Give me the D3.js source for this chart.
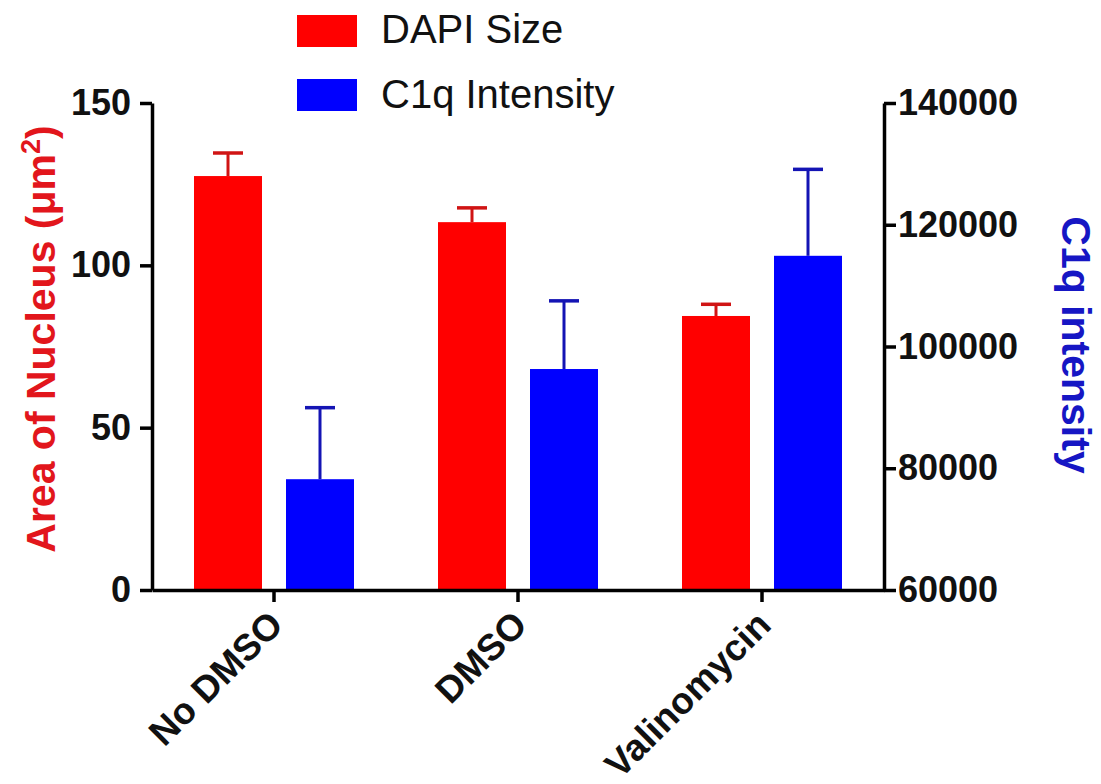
<!DOCTYPE html>
<html>
<head>
<meta charset="utf-8">
<script src="https://cdn.jsdelivr.net/npm/d3@7"></script>
<style>
  body { margin: 0; background: #fff; }
  svg { display: block; font-family: "Liberation Sans", Arial, sans-serif; }
</style>
</head>
<body>
<svg id="chart" width="1101" height="784"></svg>
<script>
// ---- data ----
const categories = ["No DMSO", "DMSO", "Valinomycin"];
const seriesNames = ["DAPI Size", "C1q Intensity"];
const dapiMean = [127.5, 113.3, 84.4];
const dapiErr  = [134.6, 117.7, 88.0];          // upper end of error bar
const c1qMean  = [78200, 96300, 114900];
const c1qErr   = [89950, 107500, 129100];       // upper end of error bar
const leftTicks  = [0, 50, 100, 150];
const rightTicks = [60000, 80000, 100000, 120000, 140000];
const colors = { "DAPI Size": "#ff0000", "C1q Intensity": "#0000ff" };
const errColors = { "DAPI Size": "#d01414", "C1q Intensity": "#1414b4" };

// ---- layout ----
const svg = d3.select("#chart");
const X0 = 152, X1 = 884, Y0 = 590, Y1 = 103;

const x = d3.scaleBand().domain(categories).range([X0, X1]).padding(0);
const xs = d3.scaleBand().domain(seriesNames).range([0, x.bandwidth()])
  .paddingInner(24 / 92).paddingOuter(0.4565);
const yL = d3.scaleLinear().domain([0, 150]).range([Y0, Y1]);
const yR = d3.scaleLinear().domain([60000, 140000]).range([Y0, Y1]);

const rows = categories.map((c, i) => ([
  { cat: c, s: "DAPI Size", v: dapiMean[i], e: dapiErr[i], y: yL },
  { cat: c, s: "C1q Intensity", v: c1qMean[i], e: c1qErr[i], y: yR }
])).flat();

// bars
svg.append("g").selectAll("rect").data(rows).join("rect")
  .attr("x", d => x(d.cat) + xs(d.s))
  .attr("width", xs.bandwidth())
  .attr("y", d => d.y(d.v))
  .attr("height", d => Y0 - d.y(d.v))
  .attr("fill", d => colors[d.s]);

// error bars (upper only)
const eg = svg.append("g");
eg.selectAll("line.stem").data(rows).join("line").attr("class", "stem")
  .attr("x1", d => x(d.cat) + xs(d.s) + xs.bandwidth() / 2)
  .attr("x2", d => x(d.cat) + xs(d.s) + xs.bandwidth() / 2)
  .attr("y1", d => d.y(d.v)).attr("y2", d => d.y(d.e))
  .attr("stroke", d => errColors[d.s]).attr("stroke-width", 3);
eg.selectAll("line.cap").data(rows).join("line").attr("class", "cap")
  .attr("x1", d => x(d.cat) + xs(d.s) + xs.bandwidth() / 2 - 15)
  .attr("x2", d => x(d.cat) + xs(d.s) + xs.bandwidth() / 2 + 15)
  .attr("y1", d => d.y(d.e)).attr("y2", d => d.y(d.e))
  .attr("stroke", d => errColors[d.s]).attr("stroke-width", 3.5);

// axes
function styleAxis(g, fs) {
  g.selectAll(".domain").attr("stroke", "#000").attr("stroke-width", 3.5);
  g.selectAll(".tick line").attr("stroke", "#000").attr("stroke-width", 3.5);
  g.selectAll(".tick text").attr("fill", "#111").attr("font-weight", "bold")
    .attr("font-size", fs);
}
const axL = svg.append("g").attr("transform", `translate(${X0},0)`)
  .call(d3.axisLeft(yL).tickValues(leftTicks).tickSize(12).tickSizeOuter(0).tickPadding(9));
styleAxis(axL, 36);
const axR = svg.append("g").attr("transform", `translate(${X1},0)`)
  .call(d3.axisRight(yR).tickValues(rightTicks).tickFormat(d3.format("d"))
    .tickSize(12).tickSizeOuter(0).tickPadding(2));
styleAxis(axR, 36);
const axB = svg.append("g").attr("transform", `translate(0,${Y0})`)
  .call(d3.axisBottom(x).tickSize(12).tickSizeOuter(0));
styleAxis(axB, 37);
axB.selectAll(".tick text")
  .attr("text-anchor", "end")
  .attr("transform", "translate(11,37) rotate(-45)")
  .attr("dy", "0").attr("y", 0).attr("x", 0);

// axis titles
svg.append("text")
  .attr("transform", `translate(55,339) rotate(-90)`)
  .attr("text-anchor", "middle").attr("font-weight", "bold").attr("font-size", 41)
  .attr("fill", "#e2161c")
  .html('Area of Nucleus (μm<tspan dy="-15" font-size="27">2</tspan><tspan dy="15">)</tspan>');
svg.append("text")
  .attr("transform", `translate(1062,345) rotate(90)`)
  .attr("text-anchor", "middle").attr("font-weight", "bold").attr("font-size", 41)
  .attr("fill", "#1616c4")
  .text("C1q intensity");

// legend
const lg = svg.append("g");
seriesNames.forEach((s, i) => {
  lg.append("rect").attr("x", 297).attr("y", 15 + i * 64).attr("width", 60).attr("height", 32)
    .attr("fill", colors[s]);
  lg.append("text").attr("x", 381).attr("y", 43 + i * 65)
    .attr("font-size", 40).attr("fill", "#111").text(s);
});
</script>
</body>
</html>
